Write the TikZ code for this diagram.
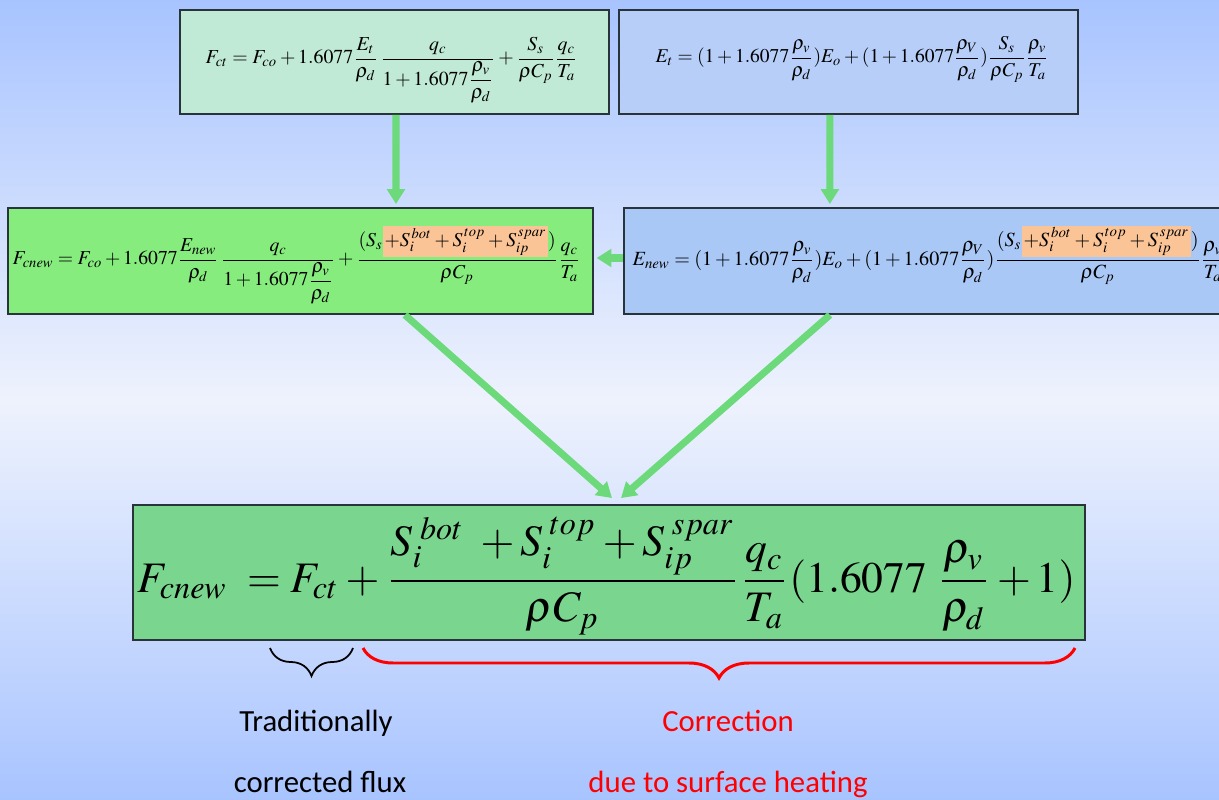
\documentclass[tikz,border=0pt]{standalone}
\usepackage{amsmath}
\usepackage{mathptmx}
\usepackage[no-math]{fontspec}
\setmainfont{Liberation Serif}
\newfontfamily\labelfont{Carlito}
\usepackage{graphicx}
\usetikzlibrary{arrows.meta,decorations.pathreplacing}

\definecolor{bgblue}{RGB}{168,196,255}
\definecolor{bglight}{RGB}{238,242,253}
\definecolor{aquafill}{RGB}{192,234,214}
\definecolor{bluefill}{RGB}{182,206,248}
\definecolor{limefill}{RGB}{134,236,126}
\definecolor{skyfill}{RGB}{170,200,246}
\definecolor{grassfill}{RGB}{122,214,142}
\definecolor{peach}{RGB}{250,196,150}
\definecolor{arrowgreen}{RGB}{108,218,122}
\definecolor{boxline}{RGB}{40,52,58}

% orange mark on the new source terms
\newcommand{\hlterm}[1]{{\setlength{\fboxsep}{1pt}\colorbox{peach}{$\displaystyle #1$}}}

\begin{document}
\begin{tikzpicture}[x=0.02cm, y=-0.02cm, >=latex, thick]
    \tikzstyle{box} = [draw=boxline, line width=1.1pt, rectangle, inner sep=0pt]
    \tikzstyle{eq} = [inner sep=0pt, anchor=base west]
    \tikzstyle{flow} = [-{Triangle[width=10pt,length=8.5pt]}, line width=4pt, arrowgreen]
    \tikzstyle{note} = [anchor=base, font=\labelfont\fontsize{17.5}{21}\selectfont]

    \shade [top color=bgblue, bottom color=bgblue, middle color=bglight] (0,0) rectangle (1219,800);
    \useasboundingbox (0,0) rectangle (1219,800);

    \node [box, fill=aquafill, minimum width=8.58cm, minimum height=2.08cm] (ftrad) at (394.5,62) {};
    \node [box, fill=bluefill, minimum width=9.18cm, minimum height=2.08cm, right of=ftrad, node distance=9.08cm] (etrad) {};
    \node [box, fill=limefill, minimum width=11.7cm, minimum height=2.12cm] (fnew) at (300.5,261) {};
    \node [box, fill=skyfill, minimum width=12.42cm, minimum height=2.12cm, right of=fnew, node distance=12.68cm] (enew) {};
    \node [box, fill=grassfill, minimum width=19.04cm, minimum height=2.7cm] (fin) at (609,572.5) {};

    \node [eq] (eqftrad) at (205,64) {\resizebox{7.44cm}{!}{$\displaystyle F_{ct}=F_{co}+1.6077\frac{E_t}{\rho_d}\,\frac{q_c}{1+1.6077\dfrac{\rho_v}{\rho_d}}+\frac{S_s}{\rho C_p}\frac{q_c}{T_a}$}};
    \node [eq] (eqetrad) at (655,63) {\resizebox{7.86cm}{!}{$\displaystyle E_t=(1+1.6077\frac{\rho_v}{\rho_d})E_o+(1+1.6077\frac{\rho_V}{\rho_d})\frac{S_s}{\rho C_p}\frac{\rho_v}{T_a}$}};
    \node [eq] (eqfnew) at (12,265) {\resizebox{11.36cm}{!}{$\displaystyle F_{cnew}=F_{co}+1.6077\frac{E_{new}}{\rho_d}\,\frac{q_c}{1+1.6077\dfrac{\rho_v}{\rho_d}}+\frac{(S_s\hlterm{+S_i^{\,bot}+S_i^{\,top}+S_{ip}^{\,spar}})}{\rho C_p}\frac{q_c}{T_a}$}};
    \node [eq] (eqenew) at (632,265) {\resizebox{11.84cm}{!}{$\displaystyle E_{new}=(1+1.6077\frac{\rho_v}{\rho_d})E_o+(1+1.6077\frac{\rho_V}{\rho_d})\frac{(S_s\hlterm{+S_i^{\,bot}+S_i^{\,top}+S_{ip}^{\,spar}})}{\rho C_p}\frac{\rho_v}{T_a}$}};
    \node [eq] (eqfin) at (137,592) {\resizebox{18.76cm}{!}{$\displaystyle F_{cnew}\;=F_{ct}+\frac{S_i^{\;bot}\;+S_i^{\;top}+S_{ip}^{\;spar}}{\rho C_p}\frac{q_c}{T_a}(1.6077\;\frac{\rho_v}{\rho_d}+1)$}};

    \draw [flow] ([xshift=0.03cm]ftrad.south) -- ([xshift=1.91cm, yshift=0.06cm]fnew.north);
    \draw [flow] ([xshift=-0.37cm]etrad.south) -- ([xshift=-2.09cm, yshift=0.06cm]enew.north);
    \draw [flow, shorten >=1.5pt] ([yshift=0.06cm]enew.west) -- ([yshift=0.06cm]fnew.east);
    \draw [flow] ([xshift=2.09cm]fnew.south) -- ([xshift=0.06cm, yshift=0.12cm]fin.north);
    \draw [flow] ([xshift=-2.09cm]enew.south) -- ([xshift=0.24cm, yshift=0.12cm]fin.north);

    \draw [decorate, decoration={brace, amplitude=0.56cm}, line width=1pt] (353,648) -- (270,648);
    \draw [decorate, decoration={brace, amplitude=0.6cm}, line width=1.7pt, red] (1075,648) -- (363,648);

    \node [note] (trad) at (316,731) {Traditionally};
    \node [note] (tradflux) at (320,792) {corrected flux};
    \node [note, red] (corr) at (728,731) {Correction};
    \node [note, red] (corrheat) at (728,792) {due to surface heating};
\end{tikzpicture}
\end{document}
